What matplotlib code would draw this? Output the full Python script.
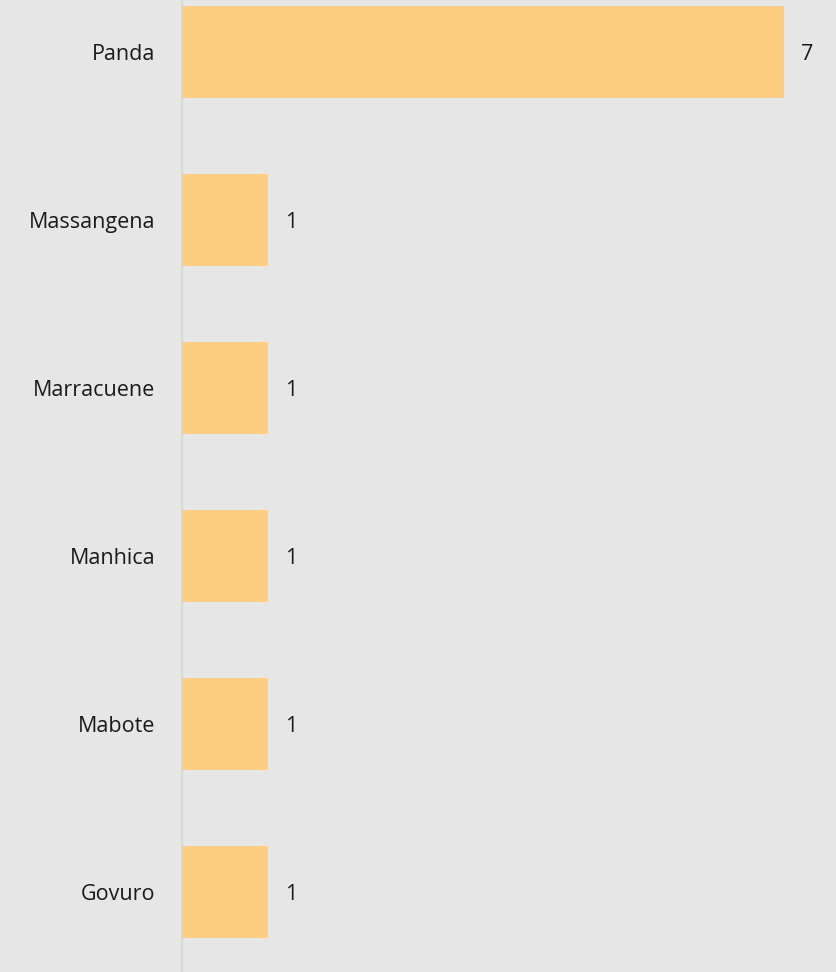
import matplotlib
matplotlib.use('Agg')
import matplotlib.pyplot as plt

# count per location, top to bottom
places = ['Panda', 'Massangena', 'Marracuene', 'Manhica', 'Mabote', 'Govuro']
counts = [7, 1, 1, 1, 1, 1]

plt.rcParams['font.family'] = ['Open Sans', 'DejaVu Sans']

bg = '#e6e6e6'
bar_color = '#fdce82'

fig = plt.figure(figsize=(8.36, 9.72), dpi=100, facecolor=bg)
ax = fig.add_axes([181.5 / 836, 0, 1 - 181.5 / 836, 1], facecolor=bg)

ypos = list(range(len(places) - 1, -1, -1))
ax.barh(ypos, counts, height=0.55, color=bar_color, zorder=2)

for y, v in zip(ypos, counts):
    ax.text(v + 0.2, y, str(v), va='center_baseline', ha='left', fontsize=15.5, color='#1a1a1a')

ax.set_xlim(0, 654.5 / 86)
ax.set_ylim(-80 / 168, 5 + 52 / 168)
ax.set_yticks(ypos)
ax.set_yticklabels(places, fontsize=15.5, color='#1a1a1a', va='center_baseline')
ax.tick_params(axis='y', length=0, pad=19)
ax.set_xticks([])

for side in ['top', 'right', 'bottom']:
    ax.spines[side].set_visible(False)
ax.spines['left'].set_color('#d4d4d4')
ax.spines['left'].set_linewidth(1.2)

fig.savefig('out.png', dpi=100, facecolor=bg)
